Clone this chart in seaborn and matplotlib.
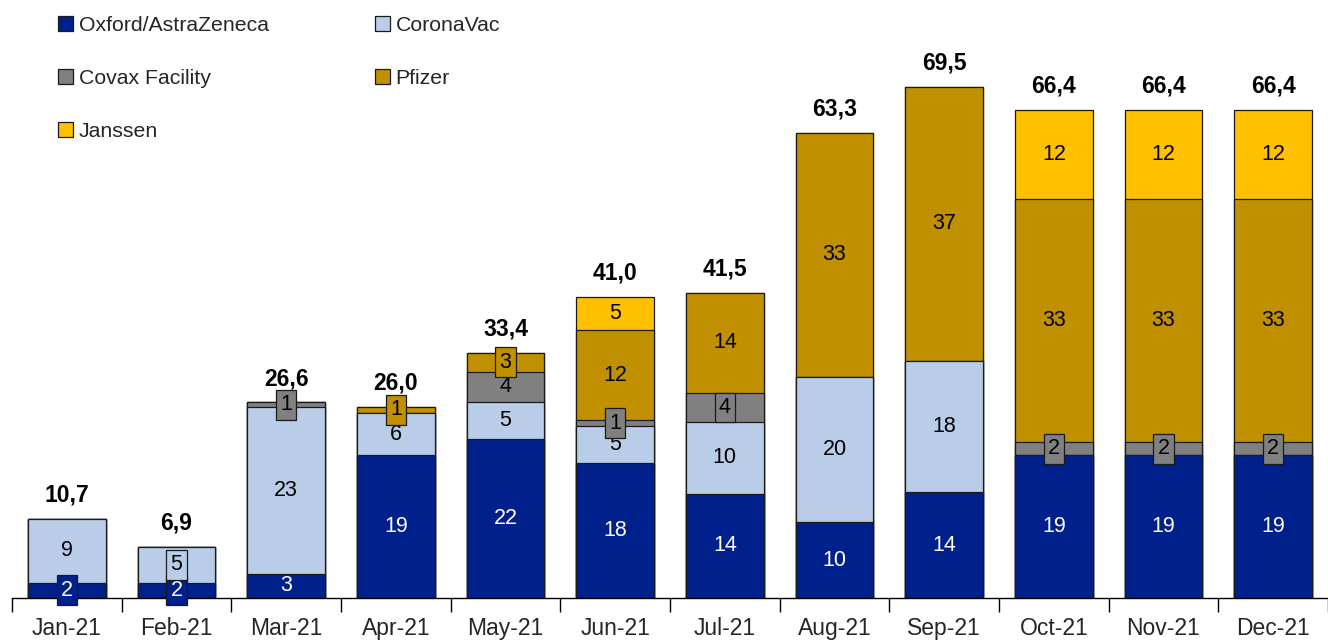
import numpy as np
import pandas as pd
import matplotlib
matplotlib.use("Agg")
import matplotlib.pyplot as plt
from matplotlib.patches import Patch
import seaborn as sns

months = ["Jan-21", "Feb-21", "Mar-21", "Apr-21", "May-21", "Jun-21",
          "Jul-21", "Aug-21", "Sep-21", "Oct-21", "Nov-21", "Dec-21"]
series = ["Oxford/AstraZeneca", "CoronaVac", "Covax Facility", "Pfizer", "Janssen"]
astrazeneca = [2.1, 2.1, 3.3, 19.4, 21.7, 18.4, 14.2, 10.3, 14.4, 19.4, 19.4, 19.4]
coronavac = [8.6, 4.8, 22.7, 5.8, 5.0, 5.0, 9.7, 19.8, 17.9, 0.0, 0.0, 0.0]
covax = [0.0, 0.0, 0.6, 0.0, 4.1, 0.8, 4.0, 0.0, 0.0, 1.8, 1.8, 1.8]
pfizer = [0.0, 0.0, 0.0, 0.8, 2.6, 12.2, 13.6, 33.2, 37.2, 33.1, 33.1, 33.1]
janssen = [0.0, 0.0, 0.0, 0.0, 0.0, 4.6, 0.0, 0.0, 0.0, 12.1, 12.1, 12.1]
# segments whose value label is drawn in a box: (month index, series index)
boxed = {(0, 0), (1, 0), (1, 1), (2, 2), (3, 3), (4, 3), (5, 2), (6, 2),
         (9, 2), (10, 2), (11, 2)}

colors = ["#00208C", "#B9CDE9", "#808080", "#C09000", "#FFC000"]
text_colors = ["white", "black", "black", "black", "black"]

sns.set_style("white")
plt.rcParams["font.family"] = ["Liberation Sans", "DejaVu Sans"]

vals = np.array([astrazeneca, coronavac, covax, pfizer, janssen])
cum = np.cumsum(vals, axis=0)
totals = cum[-1]

fig = plt.figure(figsize=(13.28, 6.43), dpi=100)
ax = fig.add_axes([12 / 1328, 45 / 643, 1 - 12 / 1328, 593 / 643])

# Stacked bars: draw cumulative totals from the top layer down
for i in range(len(series) - 1, -1, -1):
    df = pd.DataFrame({"month": months, "value": cum[i]})
    sns.barplot(data=df, x="month", y="value", order=months, color=colors[i],
                width=0.71, edgecolor="#1a1a1a", linewidth=0.9, saturation=1,
                ax=ax, errorbar=None)

# Segment labels
for j in range(len(months)):
    base = 0.0
    for i in range(len(series)):
        v = vals[i, j]
        if v > 0:
            mid = base + v / 2
            kw = {}
            if (j, i) in boxed:
                kw["bbox"] = dict(boxstyle="square,pad=0.2", facecolor=colors[i],
                                  edgecolor="#1a1a1a", linewidth=0.9)
            ax.text(j, mid, f"{v:.0f}", ha="center", va="center", fontsize=15.5,
                    color=text_colors[i], zorder=5, **kw)
        base += v
    ax.annotate(f"{totals[j]:.1f}".replace(".", ","), xy=(j, totals[j]),
                xytext=(0, 12.5), textcoords="offset points", ha="center",
                va="baseline", fontsize=16.5, fontweight="bold", color="black")

ax.set_xlim(-0.5, -0.5 + 1316 / 110.4)
ax.set_ylim(0, 593 / 7.35)
ax.set_xlabel("")
ax.set_ylabel("")
ax.set_yticks([])
for s in ["top", "right", "left"]:
    ax.spines[s].set_visible(False)
ax.spines["bottom"].set_color("black")
ax.spines["bottom"].set_linewidth(1.0)
ax.set_xticks(range(len(months)))
ax.set_xticklabels(months, fontsize=16.5)
ax.set_xticks(np.arange(-0.5, len(months), 1.0), minor=True)
ax.tick_params(axis="x", which="major", length=0, pad=14)
ax.tick_params(axis="x", which="minor", length=10, width=1.0, color="black",
               direction="out", bottom=True)

handles = [Patch(facecolor=colors[k], edgecolor="#1a1a1a", linewidth=0.9)
           for k in [0, 2, 4, 1, 3]]
labels = [series[k] for k in [0, 2, 4, 1, 3]]
fig.legend(handles, labels, loc="upper left", bbox_to_anchor=(58 / 1328, 1 - 16 / 643),
           ncol=2, frameon=False, fontsize=15.3, handlelength=0.72,
           handleheight=0.72, handletextpad=0.25, labelspacing=1.6,
           columnspacing=5.0, borderpad=0, borderaxespad=0)

fig.savefig("out.png", dpi=100)
